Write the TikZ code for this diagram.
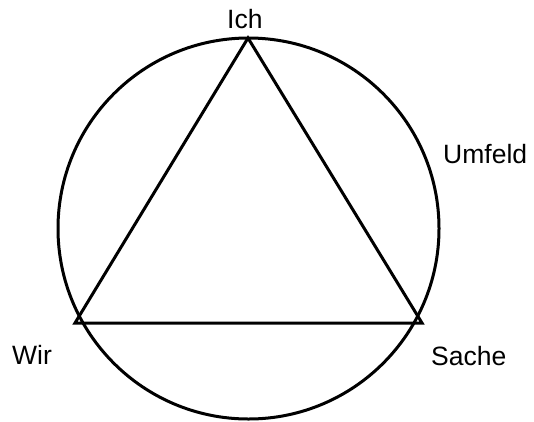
\documentclass[tikz,border=0pt]{standalone}
\usepackage{fontspec}
\setmainfont{Liberation Sans}
\begin{document}
\begin{tikzpicture}[x=1pt,y=-1pt,
  outline/.style={line width=3pt,draw=black},
  lbl/.style={inner sep=0pt,anchor=base west,font=\fontsize{26.5}{30}\selectfont}]
\useasboundingbox (0,0) rectangle (534,421);
\coordinate (center) at (248.5,228.5);
\coordinate (ich) at (248,38);
\coordinate (wir) at (75,323);
\coordinate (sache) at (422,323);
\draw[outline] (center) circle[radius=190.5];
\draw[outline] (ich) -- (wir) -- (sache) -- cycle;
\node[lbl] (tich) at (227,28) {Ich};
\node[lbl] (twir) at (12,364) {Wir};
\node[lbl] (tsache) at (431,365) {Sache};
\node[lbl] (tumfeld) at (443,163) {Umfeld};
\end{tikzpicture}
\end{document}
